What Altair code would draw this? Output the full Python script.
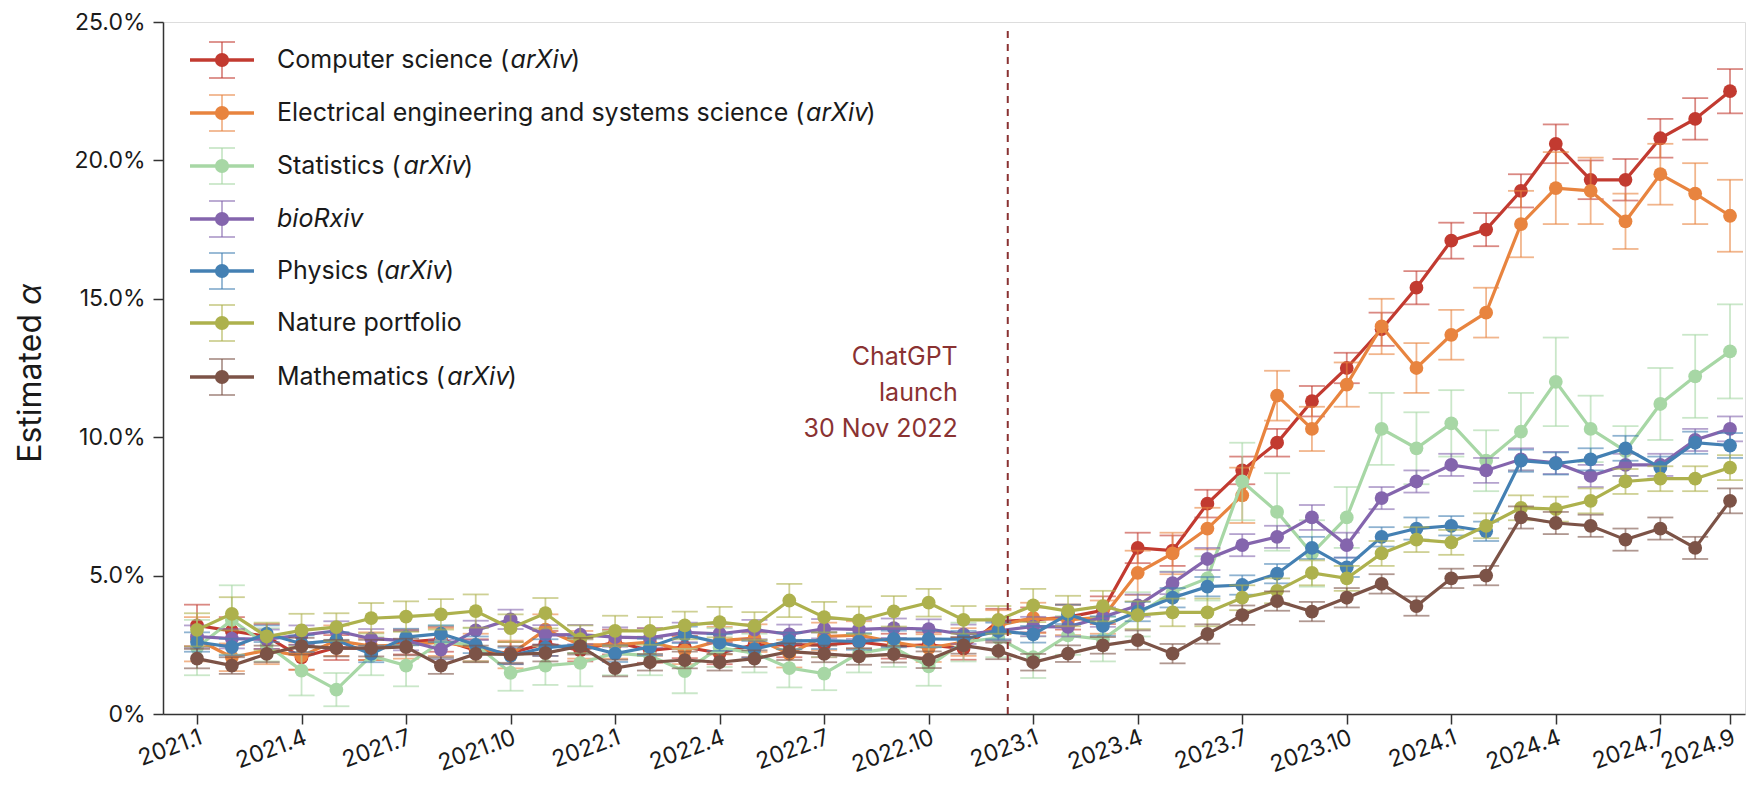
import altair as alt
import pandas as pd

# ---------------- data ----------------
months = list(range(45))  # 0 = 2021.1 ... 44 = 2024.9
x_tick_values = [0, 3, 6, 9, 12, 15, 18, 21, 24, 27, 30, 33, 36, 39, 42, 44]
x_tick_labels = ["2021.1", "2021.4", "2021.7", "2021.10", "2022.1", "2022.4", "2022.7",
                 "2022.10", "2023.1", "2023.4", "2023.7", "2023.10", "2024.1", "2024.4",
                 "2024.7", "2024.9"]
y_tick_values = [0, 5, 10, 15, 20, 25]
y_tick_labels = ["0%", "5.0%", "10.0%", "15.0%", "20.0%", "25.0%"]

series_names = ["Computer science (arXiv)",
                "Electrical engineering and systems science (arXiv)",
                "Statistics (arXiv)", "bioRxiv", "Physics (arXiv)",
                "Nature portfolio", "Mathematics (arXiv)"]
# legend labels split into (text, italic) pieces
legend_parts = [
    [("Computer science (", False), ("arXiv", True), (")", False)],
    [("Electrical engineering and systems science (", False), ("arXiv", True), (")", False)],
    [("Statistics (", False), ("arXiv", True), (")", False)],
    [("bioRxiv", True)],
    [("Physics (", False), ("arXiv", True), (")", False)],
    [("Nature portfolio", False)],
    [("Mathematics (", False), ("arXiv", True), (")", False)],
]
series_colors = ["#C23A30", "#E8843F", "#A7D7A5", "#8465AD", "#4480B3", "#ADB14D", "#7C5347"]

cs_vals = [3.2, 3.0, 2.8, 2.05, 2.4, 2.35, 2.6, 2.7, 2.3, 2.2, 2.55, 2.3, 2.6, 2.3, 2.42,
           2.2, 2.5, 2.5, 2.5, 2.6, 2.45, 2.5, 2.36, 3.35, 3.4, 3.5, 3.75, 6.0, 5.9, 7.6,
           8.8, 9.8, 11.3, 12.5, 13.9, 15.4, 17.1, 17.5, 18.9, 20.6, 19.3, 19.3, 20.8, 21.5, 22.5]
cs_err = [0.75, 0.5, 0.45, 0.45, 0.45, 0.4, 0.45, 0.45, 0.4, 0.4, 0.45, 0.4, 0.45, 0.45, 0.4,
          0.4, 0.45, 0.45, 0.45, 0.45, 0.45, 0.45, 0.4, 0.45, 0.45, 0.45, 0.5, 0.55, 0.55, 0.5,
          0.5, 0.5, 0.55, 0.55, 0.6, 0.6, 0.65, 0.6, 0.6, 0.7, 0.7, 0.75, 0.7, 0.75, 0.8]

ee_vals = [2.7, 2.05, 2.3, 2.1, 2.65, 2.45, 2.5, 2.6, 2.4, 2.15, 3.05, 2.5, 2.5, 2.6, 2.3,
           2.65, 2.74, 2.18, 2.8, 2.85, 2.6, 2.38, 2.6, 3.2, 3.47, 3.4, 3.5, 5.1, 5.8, 6.7,
           7.9, 11.5, 10.3, 11.9, 14.0, 12.5, 13.7, 14.5, 17.7, 19.0, 18.9, 17.8, 19.5, 18.8, 18.0]
ee_err = [0.8, 0.5, 0.5, 0.5, 0.55, 0.5, 0.5, 0.5, 0.5, 0.5, 0.55, 0.5, 0.5, 0.5, 0.5,
          0.5, 0.5, 0.5, 0.5, 0.5, 0.5, 0.5, 0.5, 0.55, 0.55, 0.55, 0.6, 0.8, 0.75, 0.75,
          1.0, 0.9, 0.8, 0.8, 1.0, 0.9, 0.9, 0.9, 1.2, 1.3, 1.2, 1.0, 1.1, 1.1, 1.3]

st_vals = [2.4, 3.4, 2.5, 1.57, 0.88, 2.1, 1.75, 2.6, 2.5, 1.49, 1.75, 1.85, 2.2, 2.1, 1.55,
           2.4, 2.2, 1.66, 1.46, 2.2, 2.4, 1.72, 2.6, 2.75, 2.05, 2.84, 2.7, 3.6, 4.4, 4.9,
           8.4, 7.3, 5.8, 7.1, 10.3, 9.6, 10.5, 9.15, 10.2, 12.0, 10.3, 9.5, 11.2, 12.2, 13.1]
st_err = [1.0, 1.25, 0.6, 0.9, 0.6, 0.7, 0.75, 0.6, 0.6, 0.65, 0.7, 0.85, 0.8, 0.7, 0.8,
          0.7, 0.7, 0.7, 0.6, 0.7, 0.7, 0.7, 0.7, 0.7, 0.75, 0.7, 0.8, 0.8, 0.75, 0.8,
          1.4, 1.4, 1.2, 1.1, 1.3, 1.3, 1.2, 1.1, 1.4, 1.6, 1.2, 0.9, 1.3, 1.5, 1.7]

bio_vals = [2.8, 2.72, 2.7, 2.85, 3.0, 2.72, 2.65, 2.33, 3.02, 3.42, 2.86, 2.87, 2.78, 2.75, 2.95,
            2.9, 3.05, 2.88, 3.08, 3.06, 3.1, 3.07, 2.88, 3.0, 3.16, 3.15, 3.5, 3.92, 4.73, 5.6,
            6.1, 6.4, 7.1, 6.1, 7.8, 8.4, 9.0, 8.8, 9.2, 9.07, 8.6, 9.0, 9.0, 9.9, 10.3]
bio_err = [0.4, 0.35, 0.35, 0.35, 0.35, 0.35, 0.35, 0.35, 0.35, 0.35, 0.35, 0.35, 0.35, 0.35, 0.35,
           0.35, 0.35, 0.35, 0.35, 0.35, 0.35, 0.35, 0.35, 0.35, 0.35, 0.35, 0.35, 0.4, 0.4, 0.4,
           0.4, 0.4, 0.45, 0.45, 0.4, 0.4, 0.4, 0.45, 0.4, 0.4, 0.4, 0.4, 0.4, 0.4, 0.45]

phy_vals = [2.6, 2.42, 2.9, 2.54, 2.66, 2.17, 2.78, 2.9, 2.5, 2.1, 2.4, 2.5, 2.18, 2.42, 2.86,
            2.58, 2.34, 2.64, 2.65, 2.62, 2.71, 2.71, 2.7, 3.0, 2.88, 3.6, 3.18, 3.7, 4.2, 4.6,
            4.66, 5.07, 6.0, 5.3, 6.4, 6.7, 6.8, 6.6, 9.15, 9.05, 9.2, 9.6, 8.9, 9.8, 9.7]
phy_err = [0.35, 0.3, 0.3, 0.3, 0.3, 0.3, 0.3, 0.3, 0.3, 0.3, 0.3, 0.3, 0.3, 0.3, 0.3,
           0.3, 0.3, 0.3, 0.3, 0.3, 0.3, 0.3, 0.3, 0.3, 0.3, 0.35, 0.35, 0.35, 0.35, 0.35,
           0.35, 0.35, 0.4, 0.35, 0.35, 0.4, 0.35, 0.35, 0.4, 0.4, 0.4, 0.45, 0.4, 0.4, 0.45]

nat_vals = [3.04, 3.62, 2.8, 3.02, 3.14, 3.46, 3.52, 3.6, 3.72, 3.1, 3.64, 2.7, 3.0, 3.0, 3.2,
            3.32, 3.18, 4.1, 3.5, 3.38, 3.71, 4.02, 3.4, 3.4, 3.92, 3.72, 3.9, 3.57, 3.67, 3.67,
            4.2, 4.45, 5.1, 4.9, 5.8, 6.3, 6.2, 6.8, 7.45, 7.4, 7.7, 8.4, 8.5, 8.5, 8.9]
nat_err = [0.6, 0.6, 0.5, 0.6, 0.5, 0.55, 0.55, 0.55, 0.6, 0.5, 0.55, 0.5, 0.55, 0.5, 0.5,
           0.55, 0.5, 0.6, 0.55, 0.5, 0.55, 0.5, 0.5, 0.5, 0.6, 0.55, 0.55, 0.5, 0.5, 0.5,
           0.45, 0.45, 0.45, 0.45, 0.45, 0.45, 0.45, 0.45, 0.45, 0.45, 0.45, 0.45, 0.45, 0.45, 0.45]

math_vals = [2.0, 1.75, 2.17, 2.45, 2.38, 2.38, 2.42, 1.75, 2.17, 2.15, 2.2, 2.45, 1.66, 1.87, 1.95,
             1.87, 2.0, 2.25, 2.17, 2.08, 2.16, 1.96, 2.48, 2.28, 1.87, 2.18, 2.48, 2.67, 2.18, 2.89,
             3.57, 4.08, 3.7, 4.2, 4.7, 3.9, 4.9, 5.0, 7.1, 6.9, 6.8, 6.3, 6.7, 6.0, 7.7]
math_err = [0.35, 0.3, 0.3, 0.3, 0.3, 0.3, 0.3, 0.3, 0.3, 0.3, 0.3, 0.3, 0.3, 0.3, 0.3,
            0.3, 0.3, 0.3, 0.3, 0.3, 0.3, 0.3, 0.3, 0.3, 0.3, 0.3, 0.3, 0.35, 0.35, 0.35,
            0.35, 0.35, 0.35, 0.35, 0.35, 0.35, 0.35, 0.35, 0.4, 0.4, 0.4, 0.4, 0.4, 0.4, 0.45]

all_vals = [cs_vals, ee_vals, st_vals, bio_vals, phy_vals, nat_vals, math_vals]
all_errs = [cs_err, ee_err, st_err, bio_err, phy_err, nat_err, math_err]

launch_x = 23.27
launch_lines = ["ChatGPT", "launch", "30 Nov 2022"]
launch_y = [12.9, 11.6, 10.3]

# ---------------- styling / layout helpers ----------------
FONT = "Inter"
W, H = 1582, 692
x_domain = [-0.976, 44.43]

# approximate advance widths (em) for the legend font, used to join text pieces
EM = {"C": .70, "o": .58, "m": .87, "p": .59, "u": .57, "t": .35, "e": .56, "r": .37,
      " ": .26, "s": .51, "c": .54, "i": .24, "n": .57, "(": .33, "a": .54, "X": .64,
      "v": .53, ")": .33, "E": .56, "l": .24, "g": .59, "y": .53, "d": .59, "h": .57,
      "S": .63, "P": .63, "M": .87, "b": .59, "R": .62, "x": .52, "N": .74, "f": .35}


def text_w(s, fs):
    return sum(EM.get(ch, .56) for ch in s) * 1.043 * fs


x_label_expr = "[" + ",".join("'%s'" % s for s in x_tick_labels) + "][indexof([" + \
    ",".join(str(v) for v in x_tick_values) + "], datum.value)]"
y_label_expr = "[" + ",".join("'%s'" % s for s in y_tick_labels) + "][indexof([" + \
    ",".join(str(v) for v in y_tick_values) + "], datum.value)]"

xs = alt.Scale(domain=x_domain, nice=False, zero=False)
ys = alt.Scale(domain=[0, 25], nice=False, zero=False)

x_axis = alt.Axis(values=x_tick_values, labelExpr=x_label_expr, labelAngle=340,
                  labelAlign="right", labelBaseline="top", labelPadding=2,
                  labelFontSize=23, labelFont=FONT, labelColor="#1a1a1a",
                  tickSize=10, tickWidth=1.5, tickColor="#333333",
                  domainColor="#333333", domainWidth=1.5, grid=False, title=None,
                  labelOverlap=False, labelFlush=False)
y_axis = alt.Axis(values=y_tick_values, labelExpr=y_label_expr,
                  labelFontSize=23, labelFont=FONT, labelColor="#1a1a1a", labelPadding=8,
                  tickSize=10, tickWidth=1.5, tickColor="#333333",
                  domainColor="#333333", domainWidth=1.5, grid=False, title=None,
                  labelOverlap=False, labelFlush=False)

X = alt.X("idx:Q", scale=xs, axis=x_axis)

layers = []
for name, color, vals, errs in zip(series_names, series_colors, all_vals, all_errs):
    df = pd.DataFrame({"idx": months, "v": vals, "e": errs})
    df["lo"] = df["v"] - df["e"]
    df["hi"] = df["v"] + df["e"]
    base = alt.Chart(df)
    layers.append(base.mark_rule(color=color, strokeWidth=1.8, opacity=0.6).encode(
        x=X, y=alt.Y("lo:Q", scale=ys, axis=y_axis), y2="hi:Q"))
    layers.append(base.mark_tick(color=color, orient="horizontal", size=26, thickness=1.8,
                                 opacity=0.6).encode(x=X, y=alt.Y("lo:Q", scale=ys, axis=y_axis)))
    layers.append(base.mark_tick(color=color, orient="horizontal", size=26, thickness=1.8,
                                 opacity=0.6).encode(x=X, y=alt.Y("hi:Q", scale=ys, axis=y_axis)))
    layers.append(base.mark_line(color=color, strokeWidth=3.2).encode(
        x=X, y=alt.Y("v:Q", scale=ys, axis=y_axis)))
    layers.append(base.mark_point(color=color, filled=True, opacity=1, size=190).encode(
        x=X, y=alt.Y("v:Q", scale=ys, axis=y_axis)))

# launch line and annotation
ann_color = "#8A3232"
ldf = pd.DataFrame({"idx": [launch_x], "y0": [0], "y1": [24.85]})
layers.append(alt.Chart(ldf).mark_rule(color=ann_color, strokeWidth=2, strokeDash=[7, 6]).encode(
    x=X, y=alt.Y("y0:Q", scale=ys, axis=y_axis), y2="y1:Q"))
tdf = pd.DataFrame({"idx": [launch_x] * 3, "y": launch_y, "t": launch_lines})
layers.append(alt.Chart(tdf).mark_text(color=ann_color, font=FONT, fontSize=25, align="right",
                                       baseline="middle", dx=-50).encode(
    x=X, y=alt.Y("y:Q", scale=ys, axis=y_axis), text="t:N"))

one = pd.DataFrame({"a": [0]})

# y-axis title with italic alpha
title_x, title_join, title_fs = -132, 292, 32
layers.append(alt.Chart(one).mark_text(font=FONT, fontSize=title_fs, angle=270, align="right",
                                       baseline="middle", color="#1a1a1a").encode(
    x=alt.value(title_x), y=alt.value(title_join), text=alt.value("Estimated")))
layers.append(alt.Chart(one).mark_text(font=FONT, fontSize=title_fs, angle=270, align="left",
                                       baseline="middle", fontStyle="italic",
                                       color="#1a1a1a").encode(
    x=alt.value(title_x), y=alt.value(title_join - 9), text=alt.value("α")))

# legend (drawn inside the plot, top-left)
leg_rows_px = [38, 91, 144, 197, 249, 301, 355]
LEG_FS = 25
gx0, gx1, gxc, cap, bar = 27, 91, 59, 13, 18
for parts, color, py in zip(legend_parts, series_colors, leg_rows_px):
    c = alt.Chart(one)
    layers.append(c.mark_rule(color=color, strokeWidth=1.8, opacity=0.6).encode(
        x=alt.value(gxc), y=alt.value(py - bar), y2=alt.value(py + bar)))
    layers.append(c.mark_rule(color=color, strokeWidth=1.8, opacity=0.6).encode(
        x=alt.value(gxc - cap), x2=alt.value(gxc + cap), y=alt.value(py - bar)))
    layers.append(c.mark_rule(color=color, strokeWidth=1.8, opacity=0.6).encode(
        x=alt.value(gxc - cap), x2=alt.value(gxc + cap), y=alt.value(py + bar)))
    layers.append(c.mark_rule(color=color, strokeWidth=3.5).encode(
        x=alt.value(gx0), x2=alt.value(gx1), y=alt.value(py)))
    layers.append(c.mark_point(color=color, filled=True, opacity=1, size=200).encode(
        x=alt.value(gxc), y=alt.value(py)))
    tx = 114
    for txt, ital in parts:
        layers.append(c.mark_text(font=FONT, fontSize=LEG_FS, align="left", baseline="middle",
                                  color="#1a1a1a",
                                  fontStyle="italic" if ital else "normal").encode(
            x=alt.value(round(tx, 1)), y=alt.value(py), text=alt.value(txt)))
        tx += text_w(txt, LEG_FS)

chart = alt.layer(*layers).properties(
    width=W, height=H,
    autosize=alt.AutoSizeParams(type="none"),
    padding={"left": 155, "top": 14, "right": 3, "bottom": 72},
).configure_view(stroke=None).configure(background="white")

chart.save("out.html", embed_options={"renderer": "svg", "actions": False})
